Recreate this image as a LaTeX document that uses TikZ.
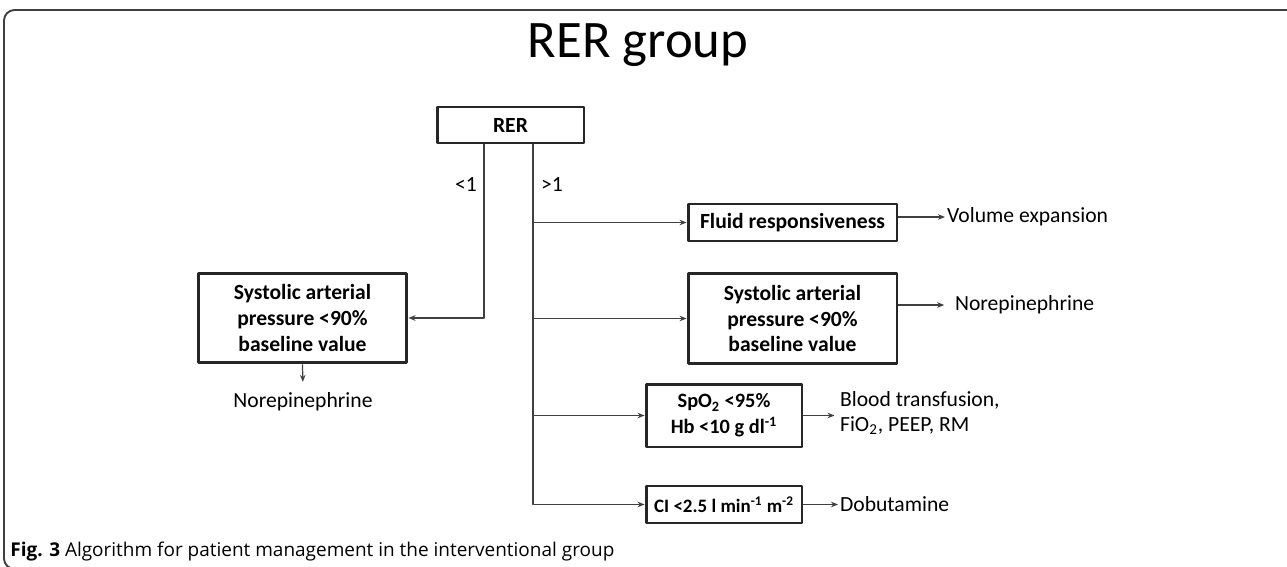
\documentclass[tikz,border=0pt]{standalone}
\usepackage{fontspec}
\setmainfont{Carlito}
\newfontfamily\capfont{Open Sans}
\usetikzlibrary{arrows.meta,positioning}
\begin{document}
\begin{tikzpicture}[x=0.02cm, y=-0.02cm, line join=round, >={Stealth[length=4pt,width=3.2pt]},
	box/.style={draw=black!85, line width=1.7pt, font=\fontsize{12.3}{14.7}\selectfont\bfseries, align=center, inner sep=2pt},
	smallbox/.style={box, font=\fontsize{11.6}{14.7}\selectfont\bfseries},
	wire/.style={->, line width=0.7pt, draw=black!75},
	txt/.style={font=\fontsize{12.3}{14.7}\selectfont, align=left, inner sep=1pt}]
	\useasboundingbox (0,0) rectangle (1287,567);
	\begin{scope}
		\clip (0,0) rectangle (1287,567);
		\draw[line width=1.1pt, black!75, rounded corners=6pt] (4,10) rectangle (1320,569);
	\end{scope}
	\node[anchor=base, font=\fontsize{30}{33}\selectfont] (title) at (638,58) {RER group};
	% boxes
	\node[box, minimum width=2.94cm, minimum height=0.72cm] (rer) at (510.5,125) {RER};
	\node[box, minimum width=4.18cm, minimum height=1.8cm] (sapl) at (302.5,318) {Systolic arterial\\pressure <90\%\\baseline value};
	\node[box, minimum width=4.18cm, minimum height=0.74cm] (fluid) at (792.5,222.5) {Fluid responsiveness};
	\node[box, minimum width=4.18cm, minimum height=1.8cm] (sapr) at (792.5,318.5) {Systolic arterial\\pressure <90\%\\baseline value};
	\node[smallbox, minimum width=3.12cm, minimum height=1.26cm] (spo) at (724,415.5) {SpO\textsubscript{2} <95\%\\Hb <10 g dl\textsuperscript{-1}};
	\node[smallbox, font=\fontsize{10.8}{14.7}\selectfont\bfseries, minimum width=3.12cm, minimum height=0.74cm] (ci) at (724,504.5) {CI <2.5 l min\textsuperscript{-1} m\textsuperscript{-2}};
	% outcomes
	\node[txt] (nore1) at (303,402) {Norepinephrine};
	\node[txt, anchor=west] (volume) at (945,217) {Volume expansion};
	\node[txt, anchor=west] (nore2) at (953,305) {Norepinephrine};
	\node[txt, anchor=west] (blood) at (838,413) {Blood transfusion,\\FiO\textsubscript{2}, PEEP, RM};
	\node[txt, anchor=west] (dobu) at (838,504) {Dobutamine};
	\node[txt, anchor=east] (lt) at (479,185) {<1};
	\node[txt, anchor=west] (gt) at (539,185) {>1};
	% connectors
	\coordinate (trunk) at ([xshift=0.45cm]rer.south);
	\draw[wire] ([xshift=-0.53cm]rer.south) |- (sapl.east);
	\draw[wire] (trunk) |- (ci.west);
	\draw[wire] (trunk |- fluid.west) -- (fluid.west);
	\draw[wire] (trunk |- sapr.west) -- (sapr.west);
	\draw[wire] (trunk |- spo.west) -- (spo.west);
	\draw[wire, shorten >=5pt] (sapl.south) -- (nore1.north);
	\draw[wire] (fluid.east |- volume.west) -- (volume.west);
	\draw[wire, shorten >=5pt] (sapr.east |- nore2.west) -- (nore2.west);
	\draw[wire, shorten >=2pt] (spo.east) -- (spo.east -| blood.west);
	\draw[wire] (ci.east) -- (ci.east -| dobu.west);
	\node[anchor=base west, inner sep=0pt, font=\capfont\fontsize{10.8}{12}\selectfont] (caption) at (10,556) {\textbf{Fig. 3} Algorithm for patient management in the interventional group};
\end{tikzpicture}
\end{document}
